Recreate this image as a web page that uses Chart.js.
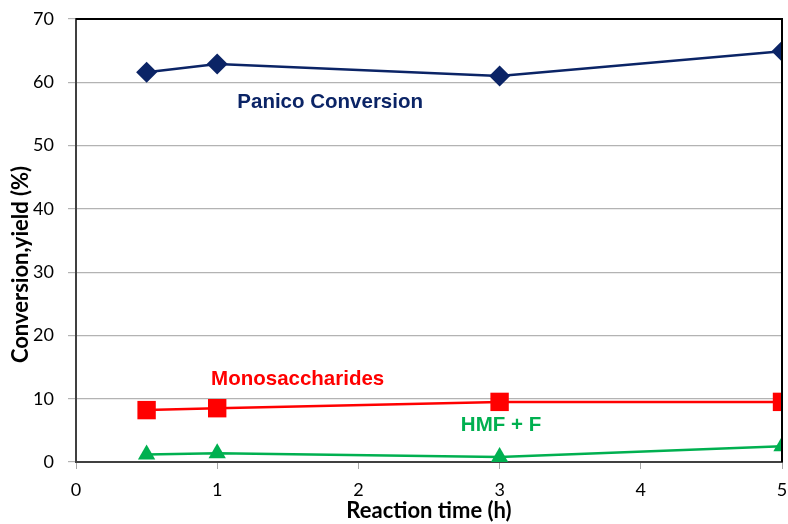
<!DOCTYPE html>
<html lang="en">
<head>
<meta charset="UTF-8">
<title>Conversion and yield</title>
<script src="https://cdn.jsdelivr.net/npm/chart.js"></script>
<style>
  html, body { margin: 0; padding: 0; background: #fff; }
  #wrap { width: 788px; height: 524px; }
</style>
</head>
<body>
<div id="wrap"><canvas id="chart" width="788" height="524"></canvas></div>
<script>
// reaction time (h)
const times = [0.5, 1, 3, 5];
const panicoConversion = [61.6, 62.9, 61.0, 64.9];
const monosaccharides = [8.2, 8.5, 9.5, 9.5];
const hmfF = [1.2, 1.4, 0.8, 2.5];
const yTicks = [0, 10, 20, 30, 40, 50, 60, 70];
const xTicks = [0, 1, 2, 3, 4, 5];
const yTitle = 'Conversion,yield (%)';

// series labels written inside the plot (data coordinates)
const seriesLabels = [
  { text: 'Panico Conversion', x: 1.8, y: 56.9, color: '#0B2466' },
  { text: 'Monosaccharides', x: 1.57, y: 13.0, color: '#FF0000' },
  { text: 'HMF + F', x: 3.01, y: 5.8, color: '#00B050' }
];

const toPoints = vals => vals.map((v, i) => ({ x: times[i], y: v }));

const labelPlugin = {
  id: 'labels',
  afterDatasetsDraw(chart) {
    const ctx = chart.ctx;
    const xs = chart.scales.x, ys = chart.scales.y;
    const a = chart.chartArea;
    ctx.save();
    ctx.font = 'bold 20.5px "Liberation Sans", Arial, sans-serif';
    ctx.textAlign = 'center';
    ctx.textBaseline = 'middle';
    seriesLabels.forEach(l => {
      ctx.fillStyle = l.color;
      ctx.fillText(l.text, xs.getPixelForValue(l.x), ys.getPixelForValue(l.y));
    });
    // top and right frame
    ctx.strokeStyle = '#000';
    ctx.lineWidth = 2;
    ctx.beginPath();
    ctx.moveTo(a.left, a.top);
    ctx.lineTo(a.right, a.top);
    ctx.lineTo(a.right, a.bottom);
    ctx.stroke();
    // y axis title, sits a bit below the middle of the axis in the original
    ctx.translate(21, (a.top + a.bottom) / 2 + 24);
    ctx.rotate(-Math.PI / 2);
    ctx.fillStyle = '#000';
    ctx.font = 'bold 22px Lato, "Open Sans", sans-serif';
    ctx.fillText(yTitle, 0, 0);
    ctx.restore();
  }
};

new Chart(document.getElementById('chart'), {
  type: 'line',
  data: {
    datasets: [
      {
        label: 'Panico Conversion',
        data: toPoints(panicoConversion),
        borderColor: '#0B2466',
        backgroundColor: '#0B2466',
        borderWidth: 2.5,
        pointStyle: 'rectRot',
        pointRadius: 10.5,
        pointBorderWidth: 0
      },
      {
        label: 'Monosaccharides',
        data: toPoints(monosaccharides),
        borderColor: '#FF0000',
        backgroundColor: '#FF0000',
        borderWidth: 2.5,
        pointStyle: 'rect',
        pointRadius: 13,
        pointBorderWidth: 0
      },
      {
        label: 'HMF + F',
        data: toPoints(hmfF),
        borderColor: '#00B050',
        backgroundColor: '#00B050',
        borderWidth: 2.5,
        pointStyle: 'triangle',
        pointRadius: 10,
        pointBorderWidth: 0
      }
    ]
  },
  options: {
    responsive: false,
    animation: false,
    layout: { autoPadding: false, padding: { left: 0, right: 6, top: 19, bottom: 0 } },
    plugins: { legend: { display: false }, tooltip: { enabled: false } },
    scales: {
      x: {
        type: 'linear',
        min: 0,
        max: 5,
        afterBuildTicks: s => { s.ticks = xTicks.map(v => ({ value: v })); },
        afterFit: s => { s.height = 62; s.paddingRight = 0; s.paddingLeft = 0; },
        grid: { drawOnChartArea: false, color: '#A6A6A6', tickLength: 7 },
        border: { color: '#404040', width: 2 },
        ticks: {
          color: '#000',
          padding: 10,
          font: { family: 'Lato, "Open Sans", sans-serif', size: 18 }
        },
        title: {
          display: true,
          text: 'Reaction time (h)',
          color: '#000',
          padding: { top: 0, bottom: 0 },
          font: { family: 'Lato, "Open Sans", sans-serif', size: 22, weight: 'bold' }
        }
      },
      y: {
        min: 0,
        max: 70,
        afterBuildTicks: s => { s.ticks = yTicks.map(v => ({ value: v })); },
        afterFit: s => { s.width = 76; s.paddingTop = 0; s.paddingBottom = 0; },
        grid: { color: '#B3B3B3', lineWidth: 1.2, tickLength: 8 },
        border: { color: '#404040', width: 2 },
        ticks: {
          color: '#000',
          padding: 14,
          font: { family: 'Lato, "Open Sans", sans-serif', size: 18 }
        }
      }
    }
  },
  plugins: [labelPlugin]
});
</script>
</body>
</html>
